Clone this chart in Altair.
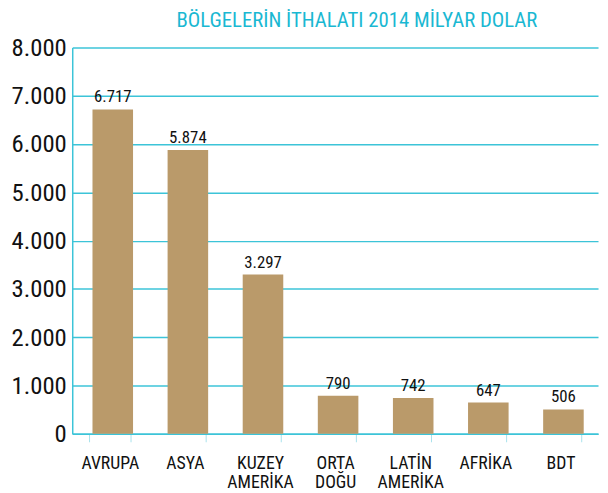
import altair as alt
import pandas as pd

regions = ["AVRUPA", "ASYA", "KUZEY|AMERİKA", "ORTA|DOĞU", "LATİN|AMERİKA", "AFRİKA", "BDT"]
values = [6717, 5874, 3297, 790, 742, 647, 506]
y_ticks = [0, 1000, 2000, 3000, 4000, 5000, 6000, 7000, 8000]

df = pd.DataFrame({"region": regions, "value": values})

FONT = "Roboto Condensed, Liberation Sans Narrow, Roboto, sans-serif"
CYAN = "#3cc4d8"
BAR = "#ba9a6a"

x_enc = alt.X(
    "region:N",
    sort=None,
    scale=alt.Scale(paddingInner=0.46, paddingOuter=0.23),
    axis=alt.Axis(
        title=None,
        labelAngle=0,
        labelExpr="split(datum.label, '|')",
        labelFont=FONT,
        labelFontSize=18,
        labelColor="#111111",
        labelPadding=13,
        labelLineHeight=19,
        labelBaseline="top",
        tickBand="extent",
        tickSize=8,
        tickColor="#a8e2ec",
        tickWidth=1,
        domainColor=CYAN,
        domainWidth=1.5,
        grid=False,
    ),
)

y_enc = alt.Y(
    "value:Q",
    scale=alt.Scale(domain=[0, 8000], nice=False),
    axis=alt.Axis(
        title=None,
        values=y_ticks,
        labelExpr="replace(format(datum.value, ','), ',', '.')",
        labelFont=FONT,
        labelFontSize=25,
        labelColor="#111111",
        labelPadding=6,
        ticks=False,
        domainColor=CYAN,
        domainWidth=1.5,
        gridColor=CYAN,
        gridWidth=1.5,
        gridOpacity=1,
    ),
)

bars = alt.Chart(df).mark_bar(color=BAR, xOffset=3).encode(x=x_enc, y=y_enc)

labels = (
    alt.Chart(df)
    .transform_calculate(lbl="replace(format(datum.value, ','), ',', '.')")
    .mark_text(font=FONT, fontSize=17, color="#111111", baseline="bottom", dy=-3, dx=3)
    .encode(x=alt.X("region:N", sort=None), y="value:Q", text="lbl:N")
)

chart = (
    alt.layer(bars, labels)
    .properties(
        width=532,
        height=391,
        title=alt.TitleParams(
            "BÖLGELERİN İTHALATI 2014 MİLYAR DOLAR",
            font=FONT,
            fontSize=21,
            fontWeight="normal",
            color="#1ab8d2",
            anchor="middle",
            dx=22,
            offset=5,
        ),
        autosize=alt.AutoSizeParams(type="none"),
        padding={"left": 65, "top": 37, "right": 2, "bottom": 60},
    )
    .configure_view(stroke=None)
)

chart.save("out.html", embed_options={"renderer": "svg", "actions": False})
